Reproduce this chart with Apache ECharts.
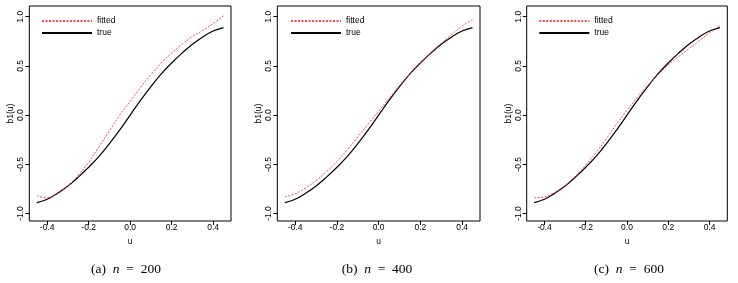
<!DOCTYPE html>
<html>
<head>
<meta charset="utf-8">
<script src="https://cdn.jsdelivr.net/npm/echarts@6/dist/echarts.min.js"></script>
<style>
html,body{margin:0;padding:0;background:#fff;}
#chart{width:738px;height:283px;}
</style>
</head>
<body>
<div id="chart"></div>
<script>
// ---- data ----
var uValues = [-0.45,-0.40,-0.35,-0.30,-0.25,-0.20,-0.15,-0.10,-0.05,0.00,0.05,0.10,0.15,0.20,0.25,0.30,0.35,0.40,0.45];
var trueValues = [-0.89,-0.855,-0.795,-0.72,-0.63,-0.53,-0.42,-0.29,-0.15,0.00,0.15,0.29,0.42,0.53,0.63,0.72,0.795,0.855,0.89];
var fitted200 = [-0.82,-0.84,-0.80,-0.72,-0.61,-0.48,-0.32,-0.16,0.00,0.14,0.28,0.41,0.53,0.63,0.72,0.80,0.86,0.93,1.01];
var fitted400 = [-0.83,-0.80,-0.74,-0.665,-0.575,-0.47,-0.35,-0.22,-0.09,0.04,0.17,0.30,0.42,0.53,0.635,0.73,0.82,0.905,0.97];
var fitted600 = [-0.84,-0.83,-0.785,-0.715,-0.62,-0.51,-0.38,-0.24,-0.09,0.05,0.18,0.30,0.41,0.51,0.595,0.675,0.755,0.835,0.91];
var xTicks = [-0.4,-0.2,0.0,0.2,0.4];
var yTicks = [-1.0,-0.5,0.0,0.5,1.0];
var seriesNames = ['fitted','true'];
var captions = [['(a)','200'],['(b)','400'],['(c)','600']];
var xAxisName = 'u';
var yAxisName = 'b1(u)';

// ---- layout / styles ----
var panels = [
  {left:29.3, width:201.7, fitted:fitted200, legendLeft:41, cap:126},
  {left:277.3, width:202.7, fitted:fitted400, legendLeft:290, cap:377},
  {left:526.7, width:200.6, fitted:fitted600, legendLeft:538.3, cap:629}
];
var TOP = 6, HEIGHT = 215;
var font = 'Liberation Sans, Arial, sans-serif';
var fs = 8.5;
var redStyle = {color:'#ff4545', width:1, type:[2,1.5]};
var blackStyle = {color:'#000', width:1.2, type:'solid'};

function pairs(ys){ return uValues.map(function(u,i){ return [u, ys[i]]; }); }

var option = {
  animation:false,
  backgroundColor:'#fff',
  grid:[], xAxis:[], yAxis:[], series:[], legend:[], graphic:[]
};

panels.forEach(function(p, k){
  option.grid.push({left:p.left, top:TOP, width:p.width, height:HEIGHT, show:true,
    borderColor:'#000', borderWidth:1, backgroundColor:'transparent', containLabel:false});
  option.xAxis.push({type:'value', gridIndex:k, min:-0.486, max:0.486, position:'bottom',
    name:xAxisName, nameLocation:'middle', nameGap:7,
    nameTextStyle:{fontFamily:font, fontSize:fs, color:'#000'},
    axisLine:{show:false, onZero:false}, splitLine:{show:false},
    axisTick:{show:true, inside:false, length:4, lineStyle:{color:'#000', width:1}, customValues:xTicks},
    axisLabel:{show:true, margin:2, fontFamily:font, fontSize:fs, color:'#000', customValues:xTicks,
      formatter:function(v){ return v.toFixed(1); }}
  });
  option.yAxis.push({type:'value', gridIndex:k, min:-1.076, max:1.109, position:'left',
    name:yAxisName, nameLocation:'middle', nameGap:13, nameRotate:90,
    nameTextStyle:{fontFamily:font, fontSize:fs, color:'#000'},
    axisLine:{show:false, onZero:false}, splitLine:{show:false},
    axisTick:{show:true, inside:false, length:4, lineStyle:{color:'#000', width:1}, customValues:yTicks},
    axisLabel:{show:true, rotate:90, margin:4, fontFamily:font, fontSize:fs, color:'#000', customValues:yTicks,
      formatter:function(v){ return v.toFixed(1); }}
  });
  option.series.push({type:'line', name:seriesNames[1], xAxisIndex:k, yAxisIndex:k,
    data:pairs(trueValues), symbol:'none', smooth:0.4, z:2,
    lineStyle:blackStyle, itemStyle:{color:'#000'}});
  option.series.push({type:'line', name:seriesNames[0], xAxisIndex:k, yAxisIndex:k,
    data:pairs(p.fitted), symbol:'none', smooth:0.4, z:3,
    lineStyle:redStyle, itemStyle:{color:'#ff4545'}});
  option.legend.push({orient:'vertical', left:p.legendLeft, top:16.5, padding:0,
    itemWidth:50, itemHeight:10, itemGap:3, selectedMode:false,
    itemStyle:{opacity:0, borderWidth:0},
    textStyle:{fontFamily:font, fontSize:fs, color:'#000'},
    data:seriesNames});
  option.graphic.push({type:'text', x:p.cap, y:269, silent:true,
    style:{text:'{r|'+captions[k][0]+'  }{i|n}{r|  =  '+captions[k][1]+'}',
      align:'center', verticalAlign:'middle',
      rich:{
        r:{fontFamily:'Liberation Serif, Times New Roman, serif', fontSize:13.5, fill:'#000'},
        i:{fontFamily:'Liberation Serif, Times New Roman, serif', fontSize:13.5, fontStyle:'italic', fill:'#000'}
      }}});
});

var chart = echarts.init(document.getElementById('chart'), null, {renderer:'canvas'});
chart.setOption(option);
</script>
</body>
</html>
